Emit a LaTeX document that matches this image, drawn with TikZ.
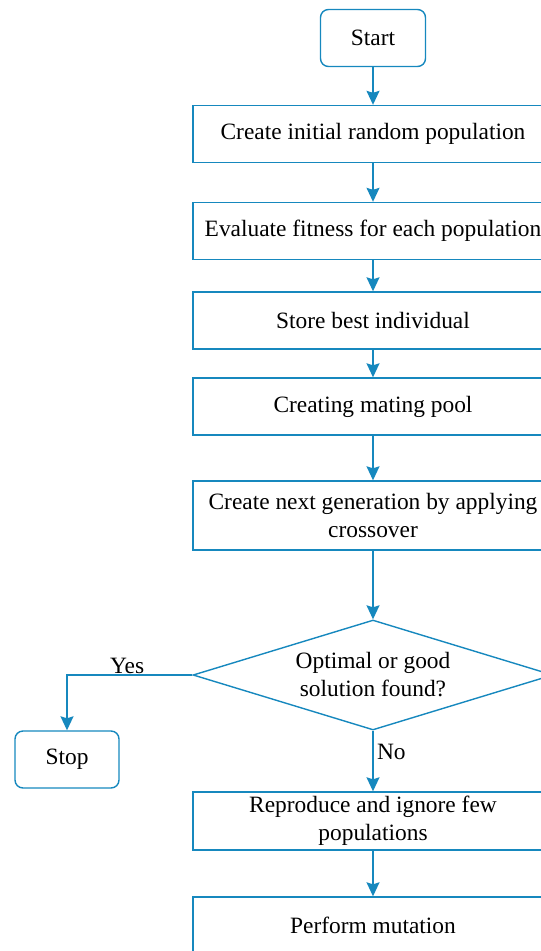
\documentclass[tikz,border=0pt]{standalone}
\usepackage{fontspec}
\setmainfont{Liberation Serif}
\usetikzlibrary{shapes.geometric}
\usetikzlibrary{arrows.meta}
\usetikzlibrary{positioning}

\definecolor{flowblue}{RGB}{22,136,190}

\begin{document}
\begin{tikzpicture}[x=1pt, y=-1pt,
    every node/.style={font=\fontsize{23.4}{28}\selectfont, text=black},
    terminal/.style={draw=flowblue, line width=1.4pt, rounded corners=8pt, minimum width=105pt, minimum height=57pt},
    stepbox/.style={draw=flowblue, line width=1.4pt, minimum width=360pt, minimum height=57pt, align=center},
    decision/.style={draw=flowblue, line width=1.4pt, diamond, aspect=3.27, inner sep=0pt, minimum width=360pt, minimum height=110pt, align=center},
    flow/.style={draw=flowblue, line width=1.4pt, -{Stealth[length=14pt, width=13pt, inset=2pt]}}]

        % Page frame (the boxes run past the right and bottom edges)
        \useasboundingbox (0,0) rectangle (541,951);
        \clip (0,0) rectangle (541,951);

        % Horizontal position of the main column
        \def\cx{373}

        % Start node
        \node[terminal] (start) at (\cx, 38) {Start};

        % Main steps
        \node[stepbox] (init) at (\cx, 134) {Create initial random population};
        \node[stepbox] (eval) at (\cx, 231) {Evaluate fitness for each population};
        \node[stepbox] (best) at (\cx, 320.5) {Store best individual};
        \node[stepbox] (pool) at (\cx, 406.5) {Creating mating pool};
        \node[stepbox, minimum height=69pt] (cross) at (\cx, 515.5) {Create next generation by applying\\crossover};

        % Decision
        \node[decision] (check) at (\cx, 675) {Optimal or good\\solution found?};

        % Stop node
        \node[terminal, minimum width=104pt] (stop) at (67, 759.5) {Stop};

        % Remaining steps
        \node[stepbox, minimum height=58pt] (repro) at (\cx, 821) {Reproduce and ignore few\\populations};
        \node[stepbox] (mut) at (\cx, 925.5) {Perform mutation};

        % Connectors
        \draw[flow] (start) -- (init);
        \draw[flow] (init) -- (eval);
        \draw[flow] (eval) -- (best);
        \draw[flow] (best) -- (pool);
        \draw[flow] (pool) -- (cross);
        \draw[flow] (cross) -- (check);
        \draw[flow] (check.west) -| node[pos=0.26, above, inner sep=1pt] {Yes} (stop.north);
        \draw[flow] (check) -- node[pos=0.35, right] {No} (repro);
        \draw[flow] (repro) -- (mut);

      \end{tikzpicture}
\end{document}
